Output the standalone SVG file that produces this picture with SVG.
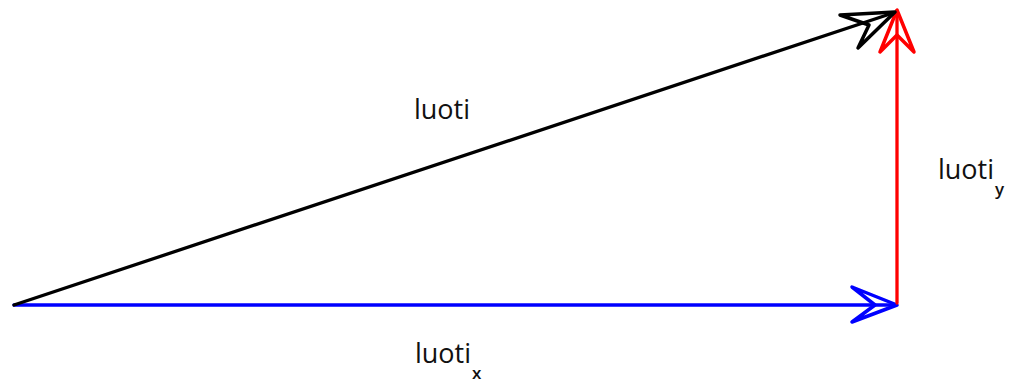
<svg xmlns="http://www.w3.org/2000/svg" width="1019" height="383" viewBox="0 0 1019 383">
<style>
.ln{fill:none;stroke-width:3.3;stroke-linecap:round;stroke-linejoin:round}
.hd{fill:none;stroke-width:3.5;stroke-linejoin:round}
.lbl{font-family:"Open Sans","Noto Sans",sans-serif;font-size:27px;font-weight:500;fill:#111}
.sub{font-family:"Open Sans","Noto Sans",sans-serif;font-size:17px;font-weight:600;fill:#111}
</style>
<rect width="1019" height="383" fill="#fff"/>
<g id="connectors">
<line class="ln" x1="14" y1="305" x2="895" y2="305" stroke="#0000ff"/>
<path class="hd" d="M897,305 L852,287 L875,305 L852,322 Z" stroke="#0000ff"/>
<line class="ln" x1="897" y1="303" x2="897" y2="12" stroke="#ff0000"/>
<path class="hd" d="M897,10 L880,52 L897,35 L914,52 Z" stroke="#ff0000"/>
<line class="ln" x1="14" y1="305" x2="893" y2="13" stroke="#000"/>
<path class="hd" d="M895,12 L840,15 L869,25 L858,48 Z" stroke="#000"/>
</g>
<g id="label-luoti"><text class="lbl" x="414" y="119">luoti</text></g>
<g id="label-luoti-y"><text class="lbl" x="938" y="179">luoti</text><text class="sub" x="995" y="195">y</text></g>
<g id="label-luoti-x"><text class="lbl" x="415" y="363">luoti</text><text class="sub" x="472" y="379">x</text></g>
</svg>
